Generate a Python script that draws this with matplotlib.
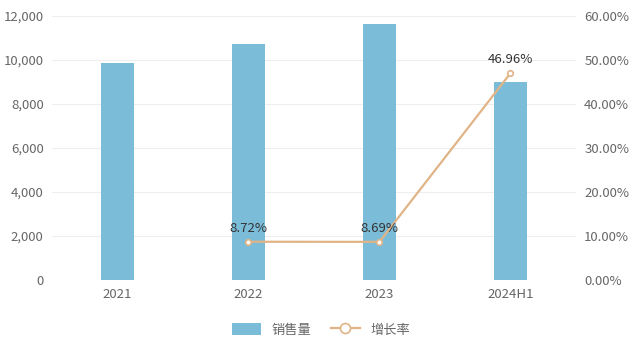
import matplotlib.pyplot as plt
import numpy as np
from matplotlib.ticker import FuncFormatter

plt.rcParams['font.family'] = ['Noto Sans CJK SC', 'DejaVu Sans']

# data
years = ['2021', '2022', '2023', '2024H1']
sales = [9860, 10720, 11650, 9000]          # 销售量
growth = [np.nan, 8.72, 8.69, 46.96]         # 增长率 (%)

bar_color = '#7bbdd9'
line_color = '#e0b487'
text_color = '#666666'

fig = plt.figure(figsize=(6.42, 3.45), dpi=100)
ax = fig.add_axes([0.081, 0.188, 0.816, 0.766])
ax2 = ax.twinx()

x = np.arange(len(years))
ax.bar(x, sales, width=0.25, color=bar_color, zorder=2, label='销售量')
ax.set_xlim(-0.5, len(years) - 0.5)
ax.set_ylim(0, 12000)
ax.set_yticks(np.arange(0, 12001, 2000))
ax.yaxis.set_major_formatter(FuncFormatter(lambda v, p: f'{v:,.0f}'))
ax.set_xticks(x, years)
ax.grid(axis='y', color='#eeeeee', linewidth=0.8, zorder=0)
ax.set_axisbelow(True)

ax2.plot(x, growth, color=line_color, linewidth=1.6, marker='o',
         markersize=4, markerfacecolor='white', markeredgecolor=line_color,
         markeredgewidth=1.2, zorder=3, label='增长率')
ax2.set_ylim(0, 60)
ax2.set_yticks(np.arange(0, 61, 10))
ax2.yaxis.set_major_formatter(FuncFormatter(lambda v, p: f'{v:.2f}%'))

for xi, g in zip(x, growth):
    if not np.isnan(g):
        ax2.annotate(f'{g:.2f}%', xy=(xi, g), xytext=(0, 5),
                     textcoords='offset points', ha='center', va='bottom',
                     fontsize=9.5, color='#333333')

for a in (ax, ax2):
    for s in a.spines.values():
        s.set_visible(False)
    a.tick_params(length=0, labelsize=9.5, labelcolor=text_color)
ax.tick_params(axis='y', pad=6)
ax2.tick_params(axis='y', pad=6)
ax.tick_params(axis='x', pad=6)

h1, l1 = ax.get_legend_handles_labels()
h2, l2 = ax2.get_legend_handles_labels()
fig.legend(h1 + h2, l1 + l2, loc='lower center', bbox_to_anchor=(0.5, -0.01),
           ncol=2, frameon=False, fontsize=9.5, labelcolor=text_color,
           handlelength=2.2, handleheight=1.0, columnspacing=1.5,
           markerscale=1.8)

fig.savefig('out.png', dpi=100)
